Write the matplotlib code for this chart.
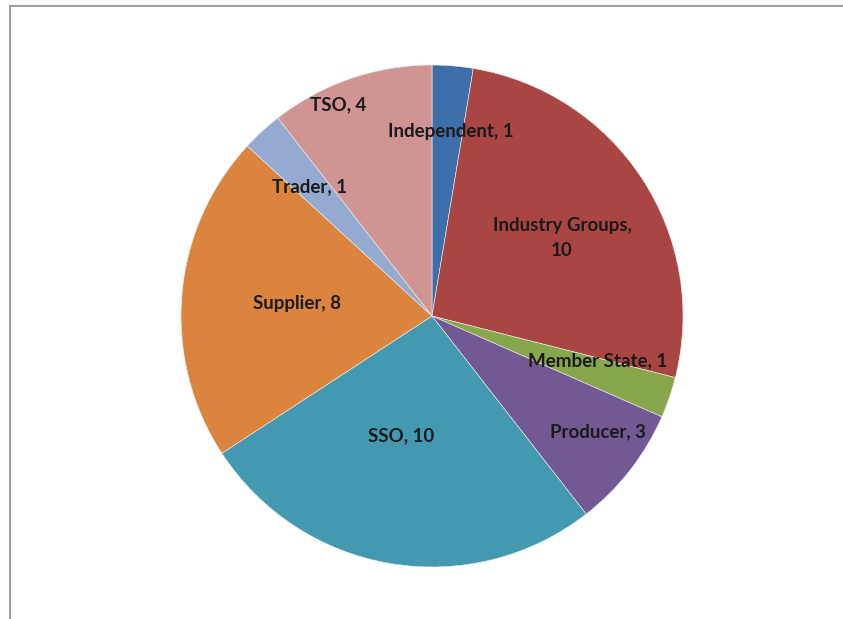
import matplotlib.pyplot as plt
from matplotlib.lines import Line2D

labels = ["Independent", "Industry Groups", "Member State", "Producer",
          "SSO", "Supplier", "Trader", "TSO"]
values = [1, 10, 1, 3, 10, 8, 1, 4]
colors = ["#3D6EA9", "#A94643", "#88A64B", "#735994",
          "#4399B0", "#DB843D", "#94AAD0", "#D09493"]

# label centres in pixels (Excel "best fit" placement)
label_px = [(451, 132), (562, 238), (598, 361), (598, 432),
            (401, 436), (297, 304), (309, 187), (338, 105)]
label_text = ["Independent, 1", "Industry Groups,\n10", "Member State, 1",
              "Producer, 3", "SSO, 10", "Supplier, 8", "Trader, 1", "TSO, 4"]

W, H = 843, 619
cx, cy, r = 432, 316, 251

fig = plt.figure(figsize=(W / 100, H / 100), dpi=100)

# chart area border (only top and left visible)
fig.add_artist(Line2D([9.5 / W, 9.5 / W], [0, 1 - 6 / H], color="#8c8c8c", lw=1.2))
fig.add_artist(Line2D([9.5 / W, 1], [1 - 6 / H, 1 - 6 / H], color="#8c8c8c", lw=1.2))

ax = fig.add_axes([(cx - r) / W, (H - cy - r) / H, 2 * r / W, 2 * r / H])
ax.pie(values, colors=colors, startangle=90, counterclock=False, radius=1,
       wedgeprops=dict(edgecolor="#f0f0f0", linewidth=0.4))
ax.set_xlim(-1, 1)
ax.set_ylim(-1, 1)
ax.set_aspect("auto")
ax.axis("off")

for (px, py), t in zip(label_px, label_text):
    ax.text((px - cx) / r, (cy - py) / r, t, ha="center", va="center",
            fontsize=13.5, fontweight="bold", family="Lato", color="#1a1a1a",
            linespacing=1.55)

fig.savefig("out.png", dpi=100)
